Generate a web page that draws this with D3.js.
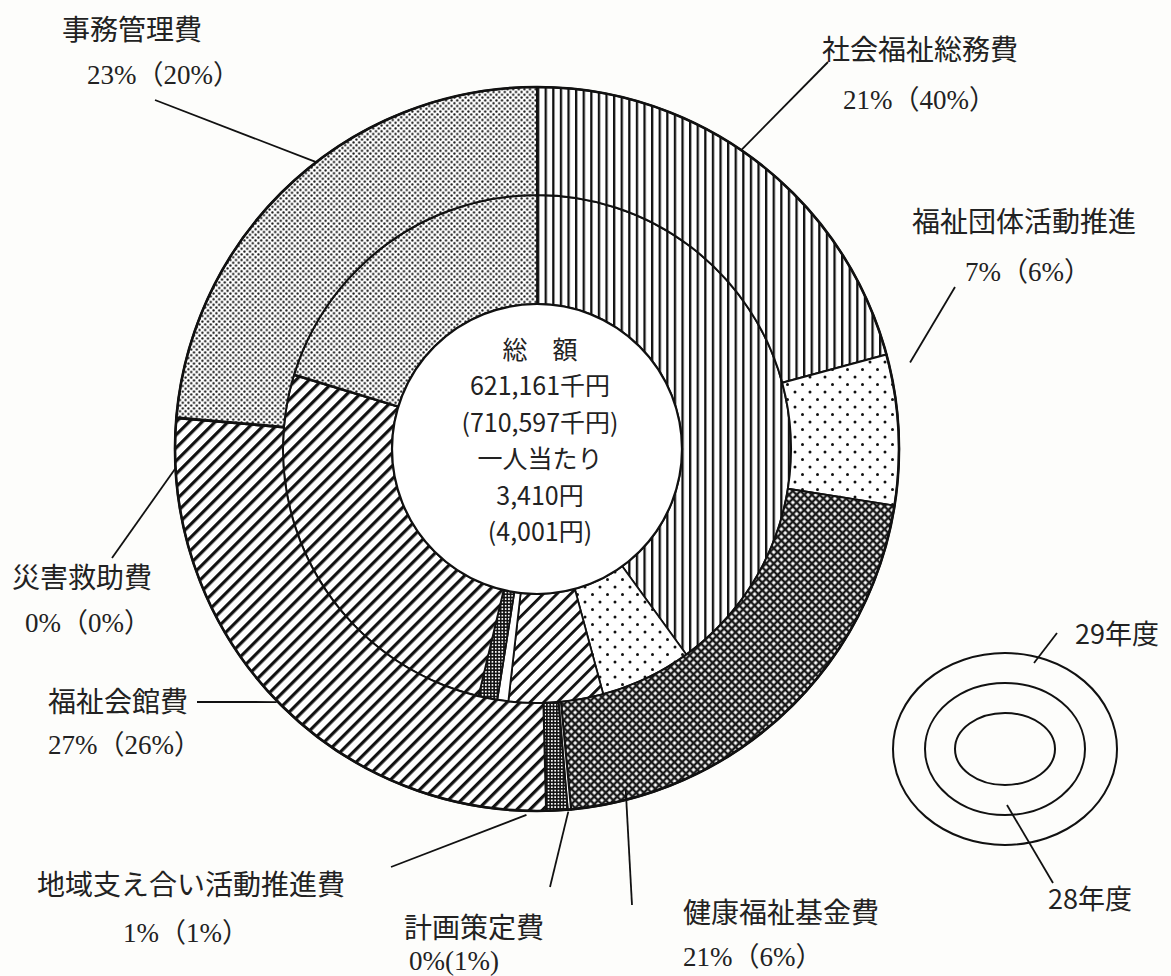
<!DOCTYPE html>
<html>
<head>
<meta charset="utf-8">
<script src="https://cdn.jsdelivr.net/npm/d3@7"></script>
<style>
  body { margin: 0; background: #fdfdfb; }
  svg { display: block; }
</style>
</head>
<body>
<svg id="chart"></svg>
<script>
// 29年度 is the outer ring, 28年度 the inner ring, clockwise from 12 o'clock
const categories = ['社会福祉総務費', '福祉団体活動推進', '健康福祉基金費', '計画策定費',
                    '地域支え合い活動推進費', '福祉会館費', '災害救助費', '事務管理費'];
const values29 = [20.8, 6.7, 21.0, 0.15, 0.95, 26.75, 0.05, 23.6];
const values28 = [40.0, 5.8, 6.0, 0.7, 1.2, 26.0, 0.05, 20.25];
const pct29 = ['21%', '7%', '21%', '0%', '1%', '27%', '0%', '23%'];
const pct28 = ['40%', '6%', '6%', '1%', '1%', '26%', '0%', '20%'];
const totalLines = ['総　額', '621,161千円', '(710,597千円)', '一人当たり', '3,410円', '(4,001円)'];
const legendLabels = ['29年度', '28年度'];

const width = 1171, height = 976;
const cx = 537, cy = 449;
const rOuter = 362, rMid = 254, rHole = 145;

const svg = d3.select('#chart').attr('width', width).attr('height', height);
svg.append('rect').attr('width', width).attr('height', height).attr('fill', '#fdfdfb');

const defs = svg.append('defs');
function pattern(id, w, h, bg, transform) {
  const p = defs.append('pattern')
    .attr('id', id)
    .attr('patternUnits', 'userSpaceOnUse')
    .attr('width', w).attr('height', h);
  if (transform) p.attr('patternTransform', transform);
  p.append('rect').attr('width', w).attr('height', h).attr('fill', bg);
  return p;
}

// vertical lines
pattern('vlines', 7.6, 10, '#fff').append('rect')
  .attr('x', 0).attr('width', 2.3).attr('height', 10).attr('fill', '#111');
// sparse dots
const sp = pattern('sparse', 15, 15, '#fff');
sp.append('circle').attr('cx', 3).attr('cy', 3).attr('r', 1.5).attr('fill', '#111');
sp.append('circle').attr('cx', 10.5).attr('cy', 10.5).attr('r', 1.5).attr('fill', '#111');
// dark cross hatch
pattern('cross', 5.4, 5.4, '#1a1a1a', 'rotate(45)').append('rect')
  .attr('x', 1.2).attr('y', 1.2).attr('width', 3).attr('height', 3).attr('fill', '#fff');
// dense grid
pattern('grid', 3.3, 3.3, '#111').append('rect')
  .attr('x', 0.8).attr('y', 0.8).attr('width', 1.7).attr('height', 1.7).attr('fill', '#fff');
// thick diagonal lines
pattern('diag', 9.2, 10, '#fff', 'rotate(45)').append('rect')
  .attr('x', 0).attr('width', 3.2).attr('height', 10).attr('fill', '#111');
pattern('diag2', 9.6, 10, '#fff', 'rotate(45)').append('rect')
  .attr('x', 0).attr('width', 2.8).attr('height', 10).attr('fill', '#111');
// fine dots
const fd = pattern('fine', 5.6, 5.6, '#fff');
fd.append('circle').attr('cx', 1.4).attr('cy', 1.4).attr('r', 1.15).attr('fill', '#111');
fd.append('circle').attr('cx', 4.2).attr('cy', 4.2).attr('r', 1.15).attr('fill', '#111');

const fills29 = ['vlines', 'sparse', 'cross', 'white', 'grid', 'diag', 'white', 'fine'];
const fills28 = ['vlines', 'sparse', 'diag2', 'white', 'grid', 'diag', 'white', 'fine'];
const fillOf = f => f === 'white' ? '#fff' : `url(#${f})`;

const pie = d3.pie().sort(null).value(d => d);
const arcs29 = pie(values29);
const arcs28 = pie(values28);

const g = svg.append('g').attr('transform', `translate(${cx},${cy})`);

const arcInner = d3.arc().innerRadius(rHole).outerRadius(rMid);
const arcOuter = d3.arc().innerRadius(rMid).outerRadius(rOuter);

g.selectAll('path.inner')
  .data(arcs28)
  .enter()
  .append('path')
  .attr('class', 'inner')
  .attr('d', arcInner)
  .attr('fill', (d, i) => fillOf(fills28[i]))
  .attr('stroke', '#111')
  .attr('stroke-width', 1.8)
  .attr('stroke-linejoin', 'round');

g.selectAll('path.outer')
  .data(arcs29)
  .enter()
  .append('path')
  .attr('class', 'outer')
  .attr('d', arcOuter)
  .attr('fill', (d, i) => fillOf(fills29[i]))
  .attr('stroke', '#111')
  .attr('stroke-width', 2)
  .attr('stroke-linejoin', 'round');

g.append('circle').attr('r', rOuter).attr('fill', 'none').attr('stroke', '#111').attr('stroke-width', 2.6);
g.append('circle').attr('r', rHole).attr('fill', '#fff').attr('stroke', '#111').attr('stroke-width', 2.2);

// centre text
g.selectAll('text.total')
  .data(totalLines)
  .enter()
  .append('text')
  .attr('class', 'total')
  .attr('x', 3)
  .attr('y', (d, i) => -101 + i * 36.4)
  .attr('text-anchor', 'middle')
  .attr('dominant-baseline', 'central')
  .style('font-family', '"Noto Sans CJK JP", sans-serif')
  .style('font-size', '25px')
  .style('fill', '#222')
  .text(d => d);

// labels: name position, value position, leader start, leader end angle offset (deg) and radius
const labelLayout = [
  { tx: 822, ty: 50,  vx: 843, vy: 100, lx: 828, ly: 62,  dAng: -3.1, r: 362 },
  { tx: 912, ty: 222, vx: 965, vy: 272, lx: 955, ly: 287, dAng: -10,  r: 383 },
  { tx: 683, ty: 913, vx: 683, vy: 957, lx: 632, ly: 905, dAng: 28.6, r: 352 },
  { tx: 404, ty: 928, vx: 409, vy: 961, lx: 550, ly: 887, dAng: 0.2,  r: 364, narrow: true },
  { tx: 37,  ty: 885, vx: 123, vy: 933, lx: 391, ly: 867, dAng: 4.8,  r: 366 },
  { tx: 48,  ty: 702, vx: 48,  vy: 745, lx: 197, ly: 702, dAng: -0.9, r: 363 },
  { tx: 12,  ty: 578, vx: 25,  vy: 623, lx: 112, ly: 558, dAng: -8,   r: 362 },
  { tx: 62,  ty: 30,  vx: 87,  vy: 75,  lx: 155, ly: 100, dAng: 4.9,  r: 362 }
];

const labelFont = '"Liberation Serif", "Noto Sans CJK JP", serif';
const lab = svg.append('g');

categories.forEach((name, i) => {
  const L = labelLayout[i];
  const a = (arcs29[i].startAngle + arcs29[i].endAngle) / 2 + L.dAng * Math.PI / 180;
  lab.append('line')
    .attr('x1', L.lx).attr('y1', L.ly)
    .attr('x2', cx + L.r * Math.sin(a))
    .attr('y2', cy - L.r * Math.cos(a))
    .attr('stroke', '#111').attr('stroke-width', 1.8);
  lab.append('text')
    .attr('x', L.tx).attr('y', L.ty)
    .attr('dominant-baseline', 'central')
    .style('font-family', labelFont).style('font-size', '28px').style('fill', '#222')
    .text(name);
  lab.append('text')
    .attr('x', L.vx).attr('y', L.vy)
    .attr('dominant-baseline', 'central')
    .style('font-family', labelFont).style('font-size', '27px').style('fill', '#222')
    .text(L.narrow ? `${pct29[i]}(${pct28[i]})` : `${pct29[i]}（${pct28[i]}）`);
});

// legend rings
const lg = svg.append('g').attr('transform', 'translate(1005,749)');
[[112, 96], [80, 66], [50, 36]].forEach(([rx, ry]) => {
  lg.append('ellipse').attr('rx', rx).attr('ry', ry)
    .attr('fill', 'none').attr('stroke', '#111').attr('stroke-width', 2);
});
lg.append('line').attr('x1', 52).attr('y1', -116).attr('x2', 29).attr('y2', -86)
  .attr('stroke', '#111').attr('stroke-width', 1.8);
lg.append('line').attr('x1', 2).attr('y1', 56).attr('x2', 48).attr('y2', 134)
  .attr('stroke', '#111').attr('stroke-width', 1.8);
lg.selectAll('text.legend')
  .data(legendLabels)
  .enter()
  .append('text')
  .attr('class', 'legend')
  .attr('x', (d, i) => i === 0 ? 70 : 43)
  .attr('y', (d, i) => i === 0 ? -117 : 148)
  .attr('dominant-baseline', 'central')
  .style('font-family', '"Noto Sans CJK JP", sans-serif')
  .style('font-size', '27px')
  .style('fill', '#222')
  .text(d => d);
</script>
</body>
</html>
